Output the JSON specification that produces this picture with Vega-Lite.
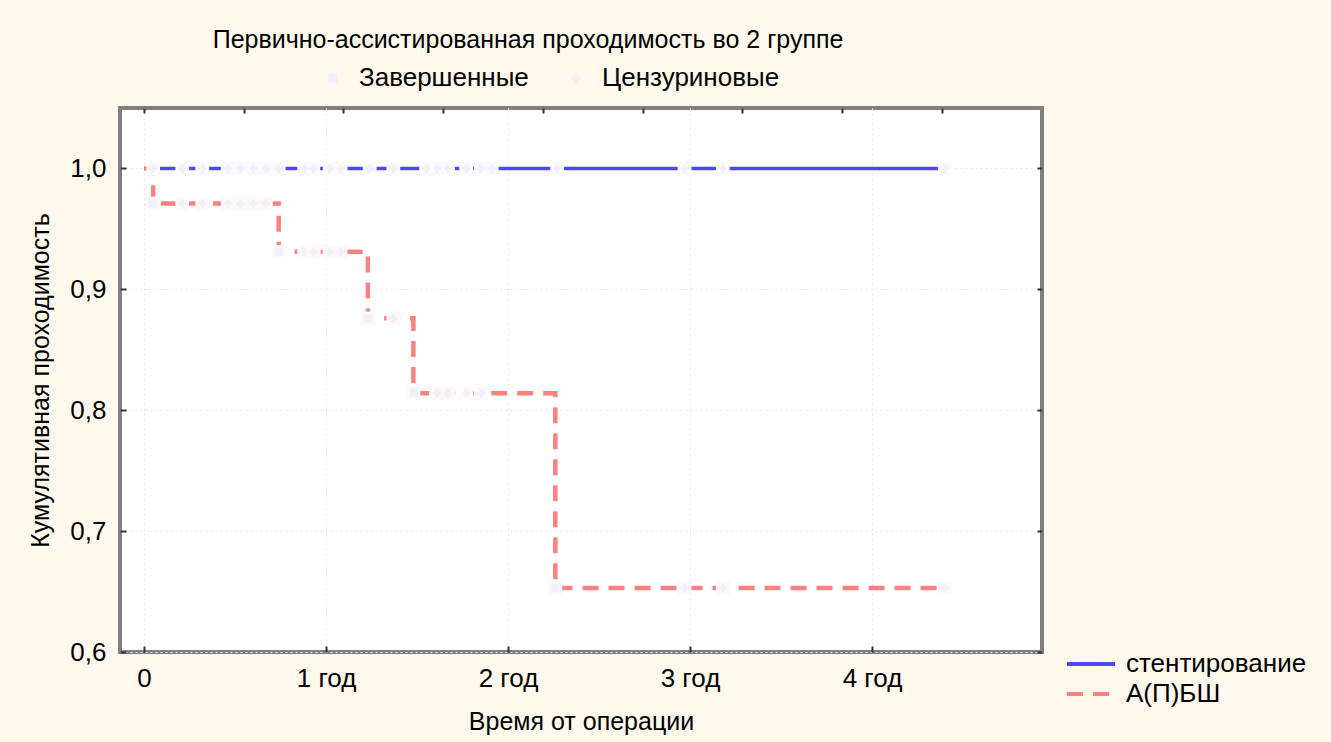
{
  "$schema": "https://vega.github.io/schema/vega-lite/v6.json",
  "width": 922,
  "height": 544,
  "autosize": {"type": "none"},
  "padding": {"left": 120, "top": 108, "right": 289, "bottom": 90},
  "background": "#fff9ed",
  "title": {
    "text": "Первично-ассистированная проходимость во 2 группе",
    "font": "Liberation Sans",
    "fontSize": 25,
    "fontWeight": "normal",
    "color": "#000000",
    "frame": "group",
    "anchor": "middle",
    "dx": -53,
    "dy": 24,
    "baseline": "alphabetic",
    "offset": 16
  },
  "datasets": {
    "blue": [
      {"g": "стентирование", "t": 0, "s": 1.0},
      {"g": "стентирование", "t": 4.40, "s": 1.0}
    ],
    "red": [
      {"g": "А(П)БШ", "t": 0, "s": 1.0},
      {"g": "А(П)БШ", "t": 0.05, "s": 0.971},
      {"g": "А(П)БШ", "t": 0.74, "s": 0.931},
      {"g": "А(П)БШ", "t": 1.23, "s": 0.876},
      {"g": "А(П)БШ", "t": 1.48, "s": 0.814},
      {"g": "А(П)БШ", "t": 2.26, "s": 0.653},
      {"g": "А(П)БШ", "t": 4.40, "s": 0.653}
    ],
    "marks": [
      {"g": "стентирование", "t": 0.05, "s": 1.0, "k": "Цензуриновые"},
      {"g": "стентирование", "t": 0.21, "s": 1.0, "k": "Цензуриновые"},
      {"g": "стентирование", "t": 0.32, "s": 1.0, "k": "Цензуриновые"},
      {"g": "стентирование", "t": 0.46, "s": 1.0, "k": "Цензуриновые"},
      {"g": "стентирование", "t": 0.53, "s": 1.0, "k": "Цензуриновые"},
      {"g": "стентирование", "t": 0.60, "s": 1.0, "k": "Цензуриновые"},
      {"g": "стентирование", "t": 0.67, "s": 1.0, "k": "Цензуриновые"},
      {"g": "стентирование", "t": 0.74, "s": 1.0, "k": "Цензуриновые"},
      {"g": "стентирование", "t": 0.88, "s": 1.0, "k": "Цензуриновые"},
      {"g": "стентирование", "t": 0.93, "s": 1.0, "k": "Цензуриновые"},
      {"g": "стентирование", "t": 1.02, "s": 1.0, "k": "Цензуриновые"},
      {"g": "стентирование", "t": 1.08, "s": 1.0, "k": "Цензуриновые"},
      {"g": "стентирование", "t": 1.24, "s": 1.0, "k": "Цензуриновые"},
      {"g": "стентирование", "t": 1.37, "s": 1.0, "k": "Цензуриновые"},
      {"g": "стентирование", "t": 1.55, "s": 1.0, "k": "Цензуриновые"},
      {"g": "стентирование", "t": 1.61, "s": 1.0, "k": "Цензуриновые"},
      {"g": "стентирование", "t": 1.67, "s": 1.0, "k": "Цензуриновые"},
      {"g": "стентирование", "t": 1.77, "s": 1.0, "k": "Цензуриновые"},
      {"g": "стентирование", "t": 1.85, "s": 1.0, "k": "Цензуриновые"},
      {"g": "стентирование", "t": 1.91, "s": 1.0, "k": "Цензуриновые"},
      {"g": "стентирование", "t": 2.27, "s": 1.0, "k": "Цензуриновые"},
      {"g": "стентирование", "t": 2.97, "s": 1.0, "k": "Цензуриновые"},
      {"g": "стентирование", "t": 3.18, "s": 1.0, "k": "Цензуриновые"},
      {"g": "стентирование", "t": 4.40, "s": 1.0, "k": "Цензуриновые"},
      {"g": "А(П)БШ", "t": 0.05, "s": 0.971, "k": "Завершенные"},
      {"g": "А(П)БШ", "t": 0.21, "s": 0.971, "k": "Цензуриновые"},
      {"g": "А(П)БШ", "t": 0.32, "s": 0.971, "k": "Цензуриновые"},
      {"g": "А(П)БШ", "t": 0.46, "s": 0.971, "k": "Цензуриновые"},
      {"g": "А(П)БШ", "t": 0.53, "s": 0.971, "k": "Цензуриновые"},
      {"g": "А(П)БШ", "t": 0.60, "s": 0.971, "k": "Цензуриновые"},
      {"g": "А(П)БШ", "t": 0.67, "s": 0.971, "k": "Цензуриновые"},
      {"g": "А(П)БШ", "t": 0.74, "s": 0.931, "k": "Завершенные"},
      {"g": "А(П)БШ", "t": 0.88, "s": 0.931, "k": "Цензуриновые"},
      {"g": "А(П)БШ", "t": 0.93, "s": 0.931, "k": "Цензуриновые"},
      {"g": "А(П)БШ", "t": 1.02, "s": 0.931, "k": "Цензуриновые"},
      {"g": "А(П)БШ", "t": 1.08, "s": 0.931, "k": "Цензуриновые"},
      {"g": "А(П)БШ", "t": 1.23, "s": 0.876, "k": "Завершенные"},
      {"g": "А(П)БШ", "t": 1.37, "s": 0.876, "k": "Цензуриновые"},
      {"g": "А(П)БШ", "t": 1.48, "s": 0.814, "k": "Завершенные"},
      {"g": "А(П)БШ", "t": 1.61, "s": 0.814, "k": "Цензуриновые"},
      {"g": "А(П)БШ", "t": 1.67, "s": 0.814, "k": "Цензуриновые"},
      {"g": "А(П)БШ", "t": 1.77, "s": 0.814, "k": "Цензуриновые"},
      {"g": "А(П)БШ", "t": 1.85, "s": 0.814, "k": "Цензуриновые"},
      {"g": "А(П)БШ", "t": 2.26, "s": 0.653, "k": "Завершенные"},
      {"g": "А(П)БШ", "t": 2.97, "s": 0.653, "k": "Цензуриновые"},
      {"g": "А(П)БШ", "t": 3.18, "s": 0.653, "k": "Цензуриновые"},
      {"g": "А(П)БШ", "t": 4.40, "s": 0.653, "k": "Цензуриновые"}
    ]
  },
  "layer": [
    {
      "data": {"name": "blue"},
      "mark": {"type": "line", "interpolate": "step-after", "strokeCap": "butt", "strokeWidth": 3.5},
      "encoding": {
        "x": {
          "field": "t", "type": "quantitative",
          "scale": {"domain": [-0.132, 4.934], "nice": false, "zero": false},
          "axis": {
            "title": "Время от операции",
            "values": [0, 1, 2, 3, 4],
            "labelExpr": "datum.value == 0 ? '0' : datum.value + ' год'",
            "labelPadding": 19,
            "titlePadding": 18
          }
        },
        "y": {
          "field": "s", "type": "quantitative",
          "scale": {"domain": [0.6, 1.05], "nice": false, "zero": false},
          "axis": {
            "title": "Кумулятивная проходимость",
            "values": [0.6, 0.7, 0.8, 0.9, 1.0],
            "labelExpr": "replace(format(datum.value, '.1f'), '.', ',')",
            "labelPadding": 20,
            "titlePadding": 16
          }
        },
        "stroke": {
          "field": "g", "type": "nominal",
          "scale": {"domain": ["стентирование"], "range": ["#4a4af0"]},
          "legend": {
            "orient": "none", "legendX": 945, "legendY": 530, "title": null,
            "symbolType": "stroke", "symbolSize": 2304, "symbolStrokeWidth": 4,
            "labelFont": "Liberation Sans", "labelFontSize": 26, "labelColor": "#000000",
            "labelOffset": 9, "padding": 0, "labelLimit": 400
          }
        }
      }
    },
    {
      "data": {"name": "red"},
      "mark": {"type": "line", "interpolate": "step-after", "strokeCap": "butt", "strokeWidth": 4.5},
      "encoding": {
        "x": {"field": "t", "type": "quantitative", "axis": null},
        "y": {"field": "s", "type": "quantitative", "axis": null},
        "stroke": {
          "field": "g", "type": "nominal",
          "scale": {"domain": ["А(П)БШ"], "range": ["#ff8080"]},
          "legend": {
            "orient": "none", "legendX": 945, "legendY": 560, "title": null,
            "symbolType": "stroke", "symbolSize": 2304, "symbolStrokeWidth": 4,
            "labelFont": "Liberation Sans", "labelFontSize": 26, "labelColor": "#000000",
            "labelOffset": 9, "padding": 0, "labelLimit": 400
          }
        },
        "strokeDash": {
          "field": "g", "type": "nominal",
          "scale": {"domain": ["А(П)БШ"], "range": [[16, 10]]},
          "legend": {
            "orient": "none", "legendX": 945, "legendY": 560, "title": null,
            "symbolType": "stroke", "symbolSize": 2304, "symbolStrokeWidth": 4,
            "labelFont": "Liberation Sans", "labelFontSize": 26, "labelColor": "#000000",
            "labelOffset": 9, "padding": 0, "labelLimit": 400
          }
        }
      }
    },
    {
      "data": {"name": "marks"},
      "mark": {"type": "point", "shape": "square", "filled": true, "size": 190, "opacity": 1},
      "encoding": {
        "x": {"field": "t", "type": "quantitative", "axis": null},
        "y": {"field": "s", "type": "quantitative", "axis": null},
        "fill": {
          "field": "g", "type": "nominal",
          "scale": {"domain": ["стентирование", "А(П)БШ"], "range": ["#fbfbff", "#fff8f8"]},
          "legend": null
        }
      }
    },
    {
      "data": {"name": "marks"},
      "mark": {"type": "point", "filled": true, "size": 70, "opacity": 1, "color": "#f0f0f8"},
      "encoding": {
        "x": {"field": "t", "type": "quantitative", "axis": null},
        "y": {"field": "s", "type": "quantitative", "axis": null},
        "shape": {
          "field": "k", "type": "nominal",
          "scale": {"domain": ["Завершенные", "Цензуриновые"], "range": ["square", "cross"]},
          "legend": {
            "orient": "none", "direction": "horizontal", "legendX": 200, "legendY": -43,
            "title": null, "symbolFillColor": "#e8e8f5", "symbolStrokeColor": "#e8e8f5",
            "symbolSize": 90, "labelFont": "Liberation Sans", "labelFontSize": 26,
            "labelColor": "#000000", "labelOffset": 13, "columnPadding": 34, "padding": 0,
            "labelLimit": 400
          }
        }
      }
    },
    {
      "data": {"name": "blue"},
      "mark": {"type": "point", "opacity": 0},
      "encoding": {
        "x": {
          "field": "t", "type": "quantitative",
          "axis": {"orient": "top", "values": [0, 0.548, 1.096, 1.644, 2.192, 2.740, 3.288, 3.836, 4.384], "labels": false, "grid": false, "title": null, "tickSize": -5}
        },
        "y": {
          "field": "s", "type": "quantitative",
          "axis": {"orient": "right", "values": [0.6, 0.7, 0.8, 0.9, 1.0], "labels": false, "grid": false, "title": null, "tickSize": -5}
        }
      }
    }
  ],
  "resolve": {
    "axis": {"x": "independent", "y": "independent"},
    "scale": {"stroke": "independent", "strokeDash": "independent"},
    "legend": {"stroke": "independent", "strokeDash": "independent"}
  },
  "config": {
    "view": {"fill": "#ffffff", "stroke": "#808080", "strokeWidth": 4},
    "axis": {
      "labelFont": "Liberation Sans", "labelFontSize": 26, "labelColor": "#000000",
      "titleFont": "Liberation Sans", "titleFontSize": 25, "titleFontWeight": "normal", "titleColor": "#000000",
      "domain": false, "tickColor": "#333333", "tickSize": -6, "tickWidth": 2,
      "grid": true, "gridColor": "#e6e6e6", "gridDash": [2, 3], "gridWidth": 1
    }
  }
}
